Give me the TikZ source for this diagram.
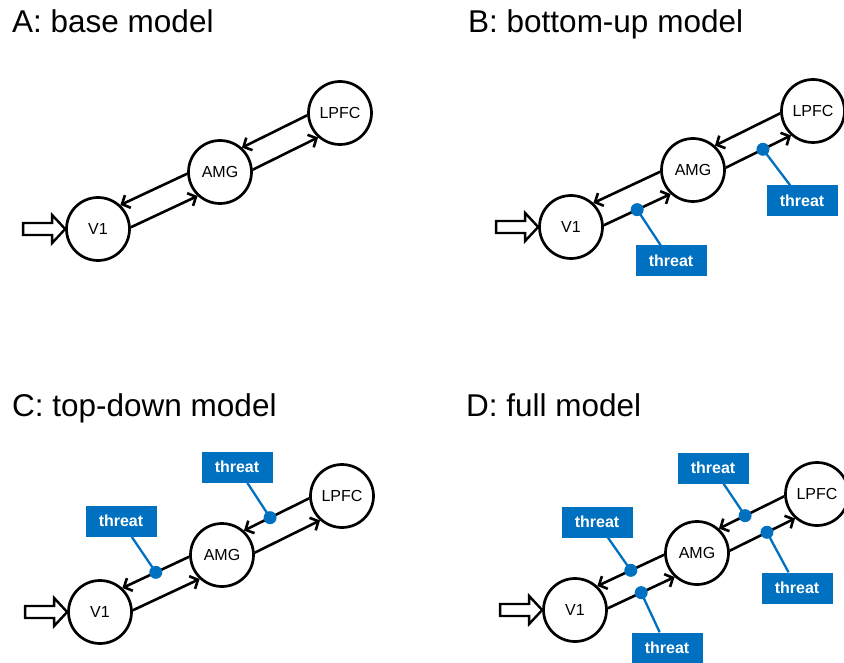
\documentclass[tikz,border=0pt]{standalone}
\usepackage{fontspec}
\setmainfont{Liberation Sans}
\usepackage{xcolor}
\usepackage{tikz}
\usetikzlibrary{calc,arrows.meta}
\definecolor{threatblue}{RGB}{0,112,192}

\begin{document}
\begin{tikzpicture}[
    x=1pt, y=1pt,
    area/.style={
        % the brain areas
        circle, draw, line width=2.7pt,
        minimum size=63pt, inner sep=0pt,
        font=\fontsize{16}{18}\selectfont},
    link/.style={line width=2.6pt, -{Straight Barb[length=6.5pt,width=14pt]}},
    input/.style={line width=2.4pt, fill=white},
    title/.style={anchor=base west, inner sep=0pt, font=\fontsize{31.5}{36}\selectfont},
    threat/.style={
        fill=threatblue, text=white,
        minimum width=71pt, minimum height=31pt, inner sep=0pt,
        font=\bfseries\fontsize{16}{18}\selectfont},
    tie/.style={threatblue, line width=2.3pt},
    dot/.style={circle, fill=threatblue, minimum size=13pt, inner sep=0pt}]
  \useasboundingbox (0,0) rectangle (844,-663);
  % the same network in all four panels
  \foreach \p/\tx/\ty/\x/\y/\kind in {A/12/-33/98/-229/base, B/468/-33/571/-227/bottom-up,
                                   C/12/-416/100/-612/top-down, D/466/-416/575/-610/full}{
    \node[title] (\p-title) at (\tx,\ty) {\p: \kind\ model};
    \node[area] (\p-V1) at (\x,\y) {V1};
    \node[area] (\p-AMG) at (\x+122,\y+57) {AMG};
    \node[area] (\p-LPFC) at (\x+242,\y+116) {LPFC};
    \draw[link] (\p-V1.3) -- coordinate[pos=.5] (\p-fwd1) (\p-AMG.227);
    \draw[link] (\p-AMG.183) -- coordinate[pos=.5] (\p-back1) (\p-V1.47);
    \draw[link] (\p-AMG.4) -- coordinate[pos=.57] (\p-fwd2) (\p-LPFC.228);
    \draw[link] (\p-LPFC.184) -- coordinate[pos=.6] (\p-back2) (\p-AMG.48);
    \draw[input] (\p-V1.west) -- ++(-13,14) -- ++(0,-8) -- ++(-29,0) -- ++(0,-12)
        -- ++(29,0) -- ++(0,-8) -- cycle;
  }
  % B: threat on the way up
  \node[threat] (B-t1) at ($(B-V1)+(100,-34)$) {threat};
  \node[threat] (B-t2) at ($(B-V1)+(231,26)$) {threat};
  \draw[tie] (B-fwd1) -- (B-t1);
  \draw[tie] (B-fwd2) -- (B-t2);
  \node[dot] at (B-fwd1) {};
  \node[dot] at (B-fwd2) {};
  % C: threat on the way down
  \node[threat] (C-t1) at ($(C-V1)+(21,91)$) {threat};
  \node[threat] (C-t2) at ($(C-V1)+(137,145)$) {threat};
  \draw[tie] (C-back1) -- (C-t1);
  \draw[tie] (C-back2) -- (C-t2);
  \node[dot] at (C-back1) {};
  \node[dot] at (C-back2) {};
  % D: both ways
  \node[threat] (D-t1) at ($(D-V1)+(92,-38)$) {threat};
  \node[threat] (D-t2) at ($(D-V1)+(222,22)$) {threat};
  \node[threat] (D-t3) at ($(D-V1)+(22,88)$) {threat};
  \node[threat] (D-t4) at ($(D-V1)+(138,142)$) {threat};
  \draw[tie] (D-fwd1) -- (D-t1);
  \draw[tie] (D-fwd2) -- (D-t2);
  \draw[tie] (D-back1) -- (D-t3);
  \draw[tie] (D-back2) -- (D-t4);
  \foreach \c in {fwd1,fwd2,back1,back2}
    \node[dot] at (D-\c) {};
\end{tikzpicture}
\end{document}
